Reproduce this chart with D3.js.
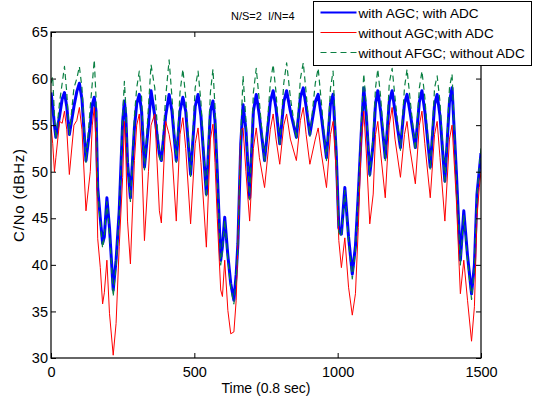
<!DOCTYPE html>
<html>
<head>
<meta charset="utf-8">
<script src="https://cdn.jsdelivr.net/npm/d3@7"></script>
<style>
  body { margin: 0; background: #fff; }
  text { font-family: "Liberation Sans", Arial, sans-serif; }
</style>
</head>
<body>
<div id="my_datavis"></div>
<script>
// sample times (0.8 sec units)
var time = [0, 6, 12, 17, 30, 39, 47, 55, 64, 80,
  90, 99, 108, 122, 137, 144, 151, 157, 163, 172,
  180, 186, 195, 204, 217, 227, 238, 250, 256, 261,
  267, 277, 291, 299, 308, 316, 326, 340, 349, 362,
  378, 385, 400, 412, 422, 437, 450, 460, 470, 487,
  503, 513, 523, 542, 556, 565, 572, 580, 592, 598,
  606, 617, 627, 638, 646, 652, 662, 670, 680, 693,
  706, 716, 727, 745, 765, 775, 785, 798, 812, 822,
  835, 856, 870, 880, 890, 903, 922, 932, 943, 961,
  975, 984, 995, 1004, 1013, 1025, 1038, 1051, 1062, 1072,
  1082, 1091, 1100, 1112, 1124, 1132, 1140, 1150, 1166, 1180,
  1190, 1200, 1219, 1233, 1242, 1252, 1271, 1285, 1294, 1304,
  1323, 1338, 1347, 1357, 1374, 1390, 1399, 1414, 1428, 1440,
  1453, 1467, 1477, 1486, 1494, 1500];

var withAgcWithAdc = [58.5, 57, 55, 53.7, 56, 57.8, 58.5, 57, 54, 57,
  58.6, 59.5, 57.8, 51.2, 55, 57.2, 58, 56.5, 48.3, 45,
  42.3, 43, 47.2, 44, 37.3, 40.5, 45.8, 55.4, 57.6, 56,
  51, 47.2, 54.7, 57.3, 58.3, 56.5, 50.5, 55, 58.7, 56,
  51.9, 51.2, 56, 58.3, 56.5, 51.2, 56.5, 58, 56.5, 49.7,
  57, 58.3, 56, 47.6, 56.5, 57.6, 55.5, 50, 40.5, 42,
  45.1, 41, 38, 36.2, 39, 42.3, 53, 57.2, 54.5, 47.2,
  56.5, 58.3, 56, 51.2, 57.5, 58.7, 56.8, 53, 57.5, 58.7,
  56.5, 53.7, 58, 59, 57, 54, 57.5, 58.3, 56, 51.5,
  57.3, 58.3, 52, 44, 43.3, 48.3, 43, 39, 42, 47.6,
  54, 59, 56, 49.7, 53, 57.3, 58.7, 56.5, 51.5, 57.5,
  58.7, 56.5, 52.6, 57.3, 58.3, 56.5, 52.6, 57.5, 58.7, 56.5,
  50.5, 57.2, 58.3, 56, 49, 57.5, 59, 50, 40.5, 45.8,
  41, 36.9, 40, 47.6, 50.1, 52];

var withoutAgcWithAdc = [55, 53, 50, 51.5, 55.4, 55.2, 56.5, 54.5, 49.7, 55,
  55.5, 56.9, 54.5, 45.8, 50, 55, 56.9, 53, 42.8, 39.7,
  35.8, 37, 40.5, 34.8, 30.3, 33.7, 42, 49.4, 55.4, 52,
  44.7, 40.1, 51.2, 55, 56.2, 52, 42.6, 50, 55, 56.2,
  45.8, 44.5, 55.4, 54, 52, 44.7, 54, 55.8, 52.5, 44.4,
  53, 54.7, 51, 41.9, 53.5, 55.1, 51, 45, 37.3, 36.6,
  40.5, 35.1, 32.6, 32.8, 36.2, 42.3, 54.4, 54.7, 50, 44.7,
  52.5, 54.7, 51.5, 48.3, 54.5, 56.2, 53.5, 50.8, 55, 56.2,
  53.5, 51.2, 55.5, 56.9, 54, 50.8, 53.5, 54.7, 52, 48.3,
  54, 55.4, 50, 42.6, 39.7, 42.9, 37.6, 34.6, 36.9, 44,
  53, 56.5, 52, 44.4, 47.6, 54, 55.4, 52, 47.2, 55,
  56.9, 53.5, 49.4, 54, 55.4, 52.5, 48.7, 55, 56.5, 53,
  47.2, 54, 55.4, 51.5, 44.7, 53.5, 55, 47, 36.9, 40.5,
  36.2, 31.8, 35.5, 45.1, 48.3, 50];

var withoutAfgcWithoutAdc = [59.5, 60.2, 56, 53.5, 57.5, 59.5, 61.3, 58.5, 54, 59,
  60, 61.3, 59, 51, 57, 59.5, 62, 58, 48, 44.5,
  41.8, 43, 46.8, 43.5, 36.6, 40, 45.5, 56, 59.7, 57,
  51, 46.8, 56, 59, 60.8, 58, 50.2, 57, 61.5, 59,
  51.5, 51, 58, 62, 58, 51, 58.5, 61, 58, 49.5,
  59, 60.8, 57.5, 47.2, 58.5, 61, 57, 49.5, 40, 41.5,
  44.8, 40.5, 37.5, 35.8, 38.5, 42, 54, 60.3, 55.5, 47,
  58.5, 61.1, 57.5, 51, 59.5, 61.5, 58.5, 52.8, 59.5, 61.7,
  58, 53.5, 60, 61.7, 58.5, 53.8, 59.5, 61.1, 57.5, 51.2,
  59, 60.8, 52, 43.5, 43, 48, 42.5, 38.5, 41.5, 47.5,
  55, 60.5, 57, 49.5, 54, 59, 61, 58, 51.2, 59.5,
  61.1, 58, 52.3, 59, 61, 58, 52.3, 59, 60.8, 58,
  50.2, 59, 60.3, 57.5, 48.7, 59, 60.5, 49.5, 40, 45.3,
  40.5, 36.3, 39.5, 47.5, 50.5, 52.5];

var xTicks = [0, 500, 1000, 1500];
var yTicks = [30, 35, 40, 45, 50, 55, 60, 65];

var seriesNames = ["with AGC; with ADC", "without AGC;with ADC", "without AFGC; without ADC"];
var seriesValues = [withAgcWithAdc, withoutAgcWithAdc, withoutAfgcWithoutAdc];
var seriesColors = ["#0000ff", "#ff0000", "#0b8043"];
var seriesWidths = [3, 1, 1.2];
var seriesDash = [null, null, "6,4"];

var margin = { top: 32, bottom: 47, left: 51, right: 53 },
  width = 534 - margin.left - margin.right,
  height = 405 - margin.top - margin.bottom;

var root = d3.select("#my_datavis")
  .append("svg")
  .attr("width", 534)
  .attr("height", 405);

var svg = root.append("g")
  .attr("transform", "translate(" + margin.left + "," + margin.top + ")");

var x = d3.scaleLinear().domain([0, 1500]).range([0, width]);
var y = d3.scaleLinear().domain([30, 65]).range([height, 0]);

svg.append("clipPath").attr("id", "plotclip")
  .append("rect").attr("width", width).attr("height", height);

var line = d3.line()
  .x(function(d, i) { return x(time[i]); })
  .y(function(d) { return y(d); });

svg.append("g").attr("clip-path", "url(#plotclip)")
  .selectAll("path")
  .data(seriesValues)
  .enter()
  .append("path")
  .attr("fill", "none")
  .attr("stroke", function(d, i) { return seriesColors[i]; })
  .attr("stroke-width", function(d, i) { return seriesWidths[i]; })
  .attr("stroke-dasharray", function(d, i) { return seriesDash[i]; })
  .attr("stroke-linejoin", "round")
  .attr("d", line);

// box axes, MATLAB style ticks pointing inward
function styleAxis(g) {
  g.select(".domain").remove();
  g.selectAll(".tick line").attr("stroke", "#000");
  g.selectAll(".tick text").attr("font-size", 14.5).attr("fill", "#000");
}

svg.append("g")
  .attr("transform", "translate(0," + height + ")")
  .call(d3.axisBottom(x).tickValues(xTicks).tickSize(-5).tickPadding(9).tickFormat(d3.format("d")))
  .call(styleAxis);
svg.append("g")
  .call(d3.axisTop(x).tickValues(xTicks).tickSize(-5).tickFormat(""))
  .call(styleAxis);
svg.append("g")
  .call(d3.axisLeft(y).tickValues(yTicks).tickSize(-5).tickPadding(3))
  .call(styleAxis);
svg.append("g")
  .attr("transform", "translate(" + width + ",0)")
  .call(d3.axisRight(y).tickValues(yTicks).tickSize(-5).tickFormat(""))
  .call(styleAxis);

svg.append("rect")
  .attr("width", width)
  .attr("height", height)
  .attr("fill", "none")
  .attr("stroke", "#000")
  .attr("stroke-width", 1.2);

svg.append("text")
  .attr("text-anchor", "middle")
  .attr("x", width / 2)
  .attr("y", height + 35)
  .attr("font-size", 14)
  .text("Time (0.8 sec)");

svg.append("text")
  .attr("text-anchor", "middle")
  .attr("transform", "translate(-27," + height / 2 + ") rotate(-90)")
  .attr("font-size", 15)
  .attr("letter-spacing", 0.8)
  .text("C/No (dBHz)");

root.append("text")
  .attr("x", 231)
  .attr("y", 20)
  .attr("font-size", 11)
  .attr("xml:space", "preserve")
  .text("N/S=2  I/N=4");

// legend
var legend = root.append("g").attr("transform", "translate(313.5,1.5)");
legend.append("rect")
  .attr("width", 218)
  .attr("height", 64)
  .attr("fill", "#fff")
  .attr("stroke", "#000")
  .attr("stroke-width", 1);

var items = legend.selectAll(".item")
  .data(seriesNames)
  .enter()
  .append("g")
  .attr("class", "item")
  .attr("transform", function(d, i) { return "translate(0," + (11 + i * 20) + ")"; });

items.append("line")
  .attr("x1", 7).attr("x2", 43)
  .attr("stroke", function(d, i) { return seriesColors[i]; })
  .attr("stroke-width", function(d, i) { return i == 0 ? 2 : 1; })
  .attr("stroke-dasharray", function(d, i) { return seriesDash[i]; });

items.append("text")
  .attr("x", 45)
  .attr("y", 5)
  .attr("font-size", 13.6)
  .text(function(d) { return d; });
</script>
</body>
</html>
